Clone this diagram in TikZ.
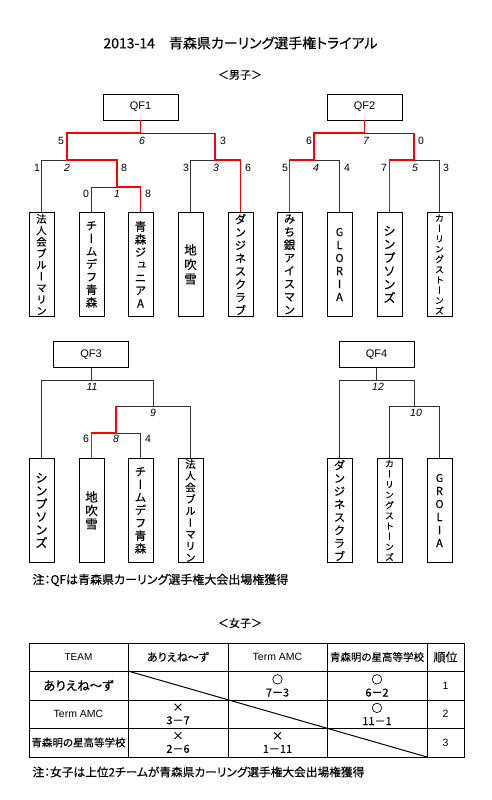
\documentclass[tikz,border=0pt]{standalone}
\usepackage{fontspec}
\setmainfont[RawFeature=+palt, FakeBold=0.2]{Noto Sans CJK JP}
\newfontfamily\latinfont{Liberation Sans}
\newfontfamily\tatefont[RawFeature=+vert, FakeBold=0.2]{Noto Sans CJK JP}

\tikzset{
	qfbox/.style = {draw, line width = 0.9pt, minimum width = 75pt, minimum height = 26pt, inner sep = 0pt, font = \latinfont\fontsize{11}{13}\selectfont},
	team/.style = {draw, line width = 0.9pt, minimum width = 25pt, minimum height = 104pt, inner sep = 0pt, anchor = north, align = center},
	lose/.style = {black!80, line width = 0.8pt},
	win/.style = {red, line width = 1.5pt},
	score/.style = {inner sep = 0pt, font = \latinfont\fontsize{10.5}{12}\selectfont},
	game/.style = {inner sep = 0pt, font = \latinfont\itshape\fontsize{10.5}{12}\selectfont},
	cell/.style = {inner sep = 0pt, align = center, font = \fontsize{11}{13}\selectfont},
}

\begin{document}
\begin{tikzpicture}[x = 1pt, y = -1pt]
	\useasboundingbox (0, 0) rectangle (491, 800);
	
	\node[font = \fontsize{14}{16}\selectfont] (title) at (240.5, 43) {2013-14　青森県カーリング選手権トライアル};
	\node[font = \fontsize{11}{13}\selectfont] (men) at (240, 75) {＜男子＞};
	
	% QF1
	\node[qfbox] (qf1) at (140.5, 107) {QF1};
	\node[team, font = \tatefont\fontsize{10.5}{11.5}\selectfont] (t1) at (41.5, 212) {法\\人\\会\\ブ\\ル\\ー\\マ\\リ\\ン};
	\node[team, font = \tatefont\fontsize{11.5}{12.8}\selectfont] (t2) at (91.5, 212) {チ\\ー\\ム\\デ\\フ\\青\\森};
	\node[team, font = \tatefont\fontsize{11.5}{12.8}\selectfont] (t3) at (140.5, 212) {青\\森\\ジ\\ュ\\ニ\\ア\\A};
	\node[team, font = \tatefont\fontsize{12.5}{14.5}\selectfont] (t4) at (190.5, 212) {地\\吹\\雪};
	\node[team, font = \tatefont\fontsize{11.5}{13}\selectfont] (t5) at (240.5, 212) {ダ\\ン\\ジ\\ネ\\ス\\ク\\ラ\\ブ};
	
	\coordinate (a1) at (67, 133);
	\coordinate (a2) at (215, 133);
	\coordinate (b1) at (41.5, 160);
	\coordinate (b2) at (117, 160);
	\coordinate (c1) at (91.5, 187);
	\coordinate (c2) at (140.5, 187);
	\coordinate (d1) at (190.5, 160);
	\coordinate (d2) at (240.5, 160);
	
	\draw[lose] (a1) -- (a2);
	\draw[lose] (t1.north) -- (b1) -- (b2);
	\draw[lose] (t2.north) -- (c1) -- (c2);
	\draw[lose] (t4.north) -- (d1) -- (d2);
	\draw[win] (qf1.south) |- (a1) |- (b2) |- (c2) -- (t3.north);
	\draw[win] (a2) |- (d2) -- (t5.north);
	
	\node[score] (s1) at (61, 141) {5};
	\node[game] (g1) at (142, 141) {6};
	\node[score] (s2) at (223, 141) {3};
	\node[score] (s3) at (37, 168) {1};
	\node[game] (g2) at (67, 168) {2};
	\node[score] (s4) at (124, 168) {8};
	\node[score] (s5) at (86, 194) {0};
	\node[game] (g3) at (117, 194) {1};
	\node[score] (s6) at (148, 194) {8};
	\node[score] (s7) at (186, 168) {3};
	\node[game] (g4) at (216, 168) {3};
	\node[score] (s8) at (248, 168) {6};
	
	% QF2
	\node[qfbox] (qf2) at (364.5, 107) {QF2};
	\node[team, font = \tatefont\fontsize{11.5}{13}\selectfont] (t6) at (289.5, 212) {み\\ち\\銀\\ア\\イ\\ス\\マ\\ン};
	\node[team, font = \tatefont\fontsize{11}{13}\selectfont] (t7) at (339.5, 212) {G\\L\\O\\R\\I\\A};
	\node[team, font = \tatefont\fontsize{12.5}{13.4}\selectfont] (t8) at (389.5, 212) {シ\\ン\\プ\\ソ\\ン\\ズ};
	\node[team, font = \tatefont\fontsize{9}{10.3}\selectfont] (t9) at (439.5, 212) {カ\\ー\\リ\\ン\\グ\\ス\\ト\\ー\\ン\\ズ};
	
	\coordinate (e1) at (314, 133);
	\coordinate (e2) at (414, 133);
	\coordinate (f1) at (289.5, 160);
	\coordinate (f2) at (339.5, 160);
	\coordinate (h1) at (389.5, 160);
	\coordinate (h2) at (439.5, 160);
	
	\draw[lose] (e1) -- (e2);
	\draw[lose] (f1) -- (f2) -- (t7.north);
	\draw[lose] (h1) -- (h2) -- (t9.north);
	\draw[win] (qf2.south) |- (e1) |- (f1) -- (t6.north);
	\draw[win] (e2) |- (h1) -- (t8.north);
	
	\node[score] (s9) at (309, 141) {6};
	\node[game] (g5) at (366, 141) {7};
	\node[score] (s10) at (421, 141) {0};
	\node[score] (s11) at (285, 168) {5};
	\node[game] (g6) at (316, 168) {4};
	\node[score] (s12) at (347, 168) {4};
	\node[score] (s13) at (384, 168) {7};
	\node[game] (g7) at (415, 168) {5};
	\node[score] (s14) at (446, 168) {3};
	
	% QF3
	\node[qfbox] (qf3) at (91, 354.5) {QF3};
	\node[team, font = \tatefont\fontsize{12.5}{13}\selectfont] (u1) at (41.5, 458) {シ\\ン\\プ\\ソ\\ン\\ズ};
	\node[team, font = \tatefont\fontsize{12.5}{13.5}\selectfont] (u2) at (91.5, 458) {地\\吹\\雪};
	\node[team, font = \tatefont\fontsize{11.5}{12.8}\selectfont] (u3) at (140.5, 458) {チ\\ー\\ム\\デ\\フ\\青\\森};
	\node[team, font = \tatefont\fontsize{10.5}{11.7}\selectfont] (u4) at (190.5, 458) {法\\人\\会\\ブ\\ル\\ー\\マ\\リ\\ン};
	
	\coordinate (k1) at (41.5, 380);
	\coordinate (k2) at (153, 380);
	\coordinate (l1) at (116, 406);
	\coordinate (l2) at (190.5, 406);
	\coordinate (m1) at (91.5, 433);
	\coordinate (m2) at (140.5, 433);
	
	\draw[lose] (qf3.south) -- (qf3.south |- k1);
	\draw[lose] (u1.north) -- (k1) -- (k2) -- (k2 |- l1);
	\draw[lose] (l1) -- (l2) -- (u4.north);
	\draw[lose] (m1) -- (m2) -- (u3.north);
	\draw[win] (l1) |- (m1) -- (u2.north);
	
	\node[game] (g8) at (92, 387) {11};
	\node[game] (g9) at (153, 413) {9};
	\node[score] (s15) at (86, 439) {6};
	\node[game] (g10) at (116, 439) {8};
	\node[score] (s16) at (148, 439) {4};
	
	% QF4
	\node[qfbox] (qf4) at (376.5, 354.5) {QF4};
	\node[team, font = \tatefont\fontsize{11.5}{13}\selectfont] (v1) at (339.5, 458) {ダ\\ン\\ジ\\ネ\\ス\\ク\\ラ\\ブ};
	\node[team, font = \tatefont\fontsize{9}{10.4}\selectfont] (v2) at (389.5, 458) {カ\\ー\\リ\\ン\\グ\\ス\\ト\\ー\\ン\\ズ};
	\node[team, font = \tatefont\fontsize{11}{13}\selectfont] (v3) at (439.5, 458) {G\\R\\O\\L\\I\\A};
	
	\coordinate (n1) at (339.5, 380);
	\coordinate (n2) at (414, 380);
	\coordinate (p1) at (389.5, 406);
	\coordinate (p2) at (439.5, 406);
	
	\draw[lose] (qf4.south) -- (qf4.south |- n1);
	\draw[lose] (v1.north) -- (n1) -- (n2) -- (n2 |- p1);
	\draw[lose] (v2.north) -- (p1) -- (p2) -- (v3.north);
	
	\node[game] (g11) at (378, 387) {12};
	\node[game] (g12) at (416, 413) {10};
	
	\node[anchor = west, font = \fontsize{12}{14}\selectfont] (note1) at (29, 580) {注：QFは青森県カーリング選手権大会出場権獲得};
	
	% women
	\node[font = \fontsize{11}{13}\selectfont] (women) at (240, 623) {＜女子＞};
	
	\draw[line width = 1pt] (29, 643) rectangle (464, 757);
	\draw[line width = 0.8pt] (128, 643) -- (128, 757);
	\draw[line width = 0.8pt] (228, 643) -- (228, 757);
	\draw[line width = 0.8pt] (327, 643) -- (327, 757);
	\draw[line width = 0.8pt] (427, 643) -- (427, 757);
	\draw[line width = 0.8pt] (29, 671) -- (464, 671);
	\draw[line width = 0.8pt] (29, 700) -- (464, 700);
	\draw[line width = 0.8pt] (29, 728) -- (464, 728);
	\draw[line width = 1pt] (128, 671) -- (427, 757);
	
	\node[cell, font = \latinfont\fontsize{10}{12}\selectfont] (c11) at (78.5, 657) {TEAM};
	\node[cell] (c12) at (178, 657) {ありえね～ず};
	\node[cell, font = \latinfont\fontsize{10.5}{12}\selectfont] (c13) at (277.5, 657) {Term AMC};
	\node[cell, font = \fontsize{10.5}{12}\selectfont] (c14) at (377, 657) {青森明の星高等学校};
	\node[cell, font = \fontsize{12}{14}\selectfont] (c15) at (445.5, 657) {順位};
	
	\node[cell, font = \fontsize{12.5}{14}\selectfont] (c21) at (78.5, 685.5) {ありえね～ず};
	\node[cell] (c23) at (277.5, 685.5) {○\\7－3};
	\node[cell] (c24) at (377, 685.5) {○\\6－2};
	\node[cell, font = \latinfont\fontsize{10.5}{12}\selectfont] (c25) at (445.5, 685.5) {1};
	
	\node[cell, font = \latinfont\fontsize{10.5}{12}\selectfont] (c31) at (78.5, 714) {Term AMC};
	\node[cell] (c32) at (178, 714) {×\\3－7};
	\node[cell] (c34) at (377, 714) {○\\11－1};
	\node[cell, font = \latinfont\fontsize{10.5}{12}\selectfont] (c35) at (445.5, 714) {2};
	
	\node[cell, font = \fontsize{10.5}{12}\selectfont] (c41) at (78.5, 742.5) {青森明の星高等学校};
	\node[cell] (c42) at (178, 742.5) {×\\2－6};
	\node[cell] (c43) at (277.5, 742.5) {×\\1－11};
	\node[cell, font = \latinfont\fontsize{10.5}{12}\selectfont] (c45) at (445.5, 742.5) {3};
	
	\node[anchor = west, font = \fontsize{11.7}{14}\selectfont] (note2) at (29, 772) {注：女子は上位2チームが青森県カーリング選手権大会出場権獲得};
\end{tikzpicture}
\end{document}
